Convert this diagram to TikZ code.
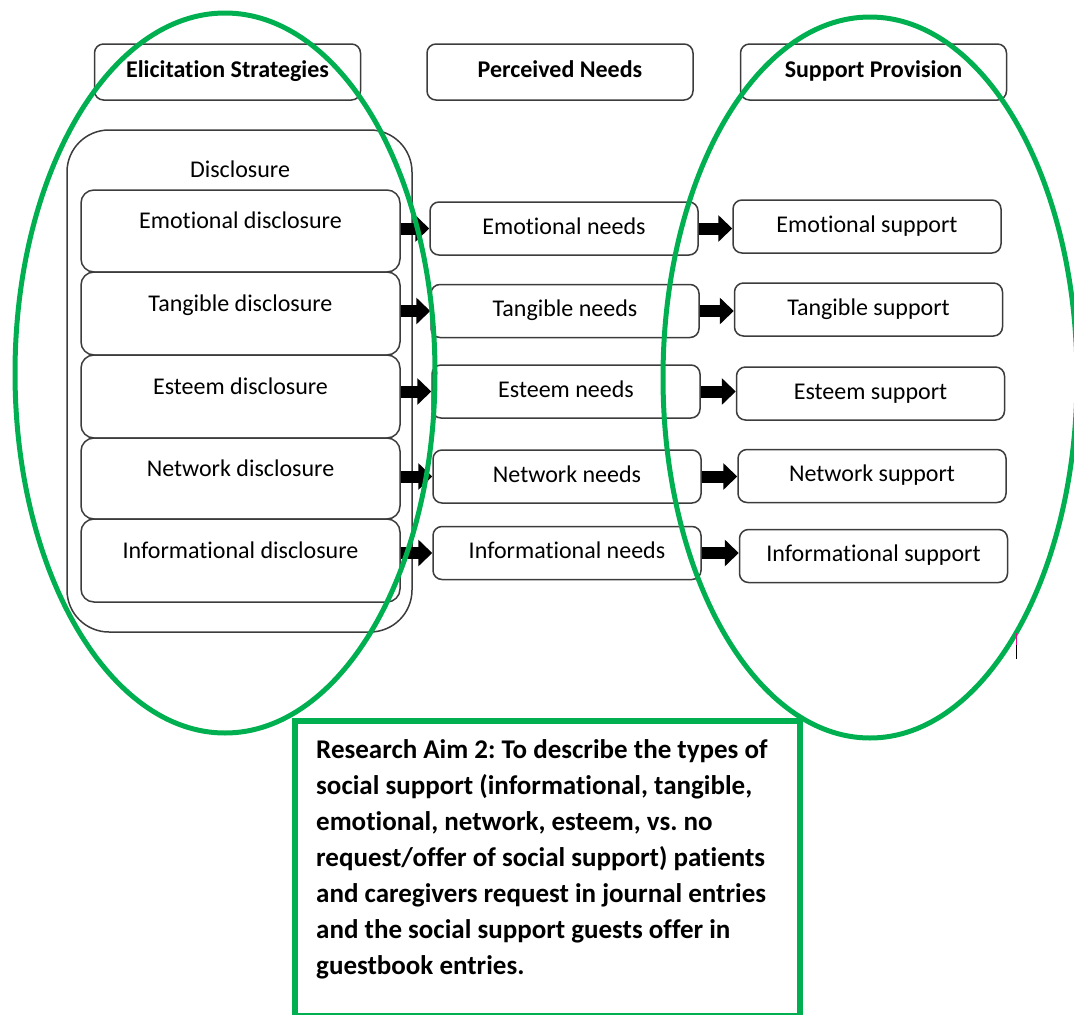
\documentclass[tikz,border=0pt]{standalone}
\usepackage{fontspec}
\setmainfont{Carlito}[Ligatures={NoCommon}]
\usetikzlibrary{arrows.meta}
\frenchspacing
\definecolor{ogreen}{HTML}{00B050}
\definecolor{boxline}{HTML}{3C3C3C}
\tikzset{
  basebox/.style={draw=boxline, line width=1.5pt, inner sep=0pt, font=\fontsize{24}{28}\selectfont, text height=16pt, text depth=5pt},
  headbox/.style={basebox, rounded corners=9pt, minimum width=266pt, minimum height=56pt, font=\fontsize{24}{28}\selectfont\bfseries},
  discbox/.style={basebox, rounded corners=13pt, minimum width=319pt, text height=16pt, text depth=21pt},
  needbox/.style={basebox, rounded corners=9pt, minimum width=268pt, minimum height=53pt},
  container/.style={draw=boxline, line width=1.5pt, rounded corners=42pt, inner sep=0pt},
  blockarrow/.style={line width=12pt, -{Triangle[length=14pt,width=26pt]}, black},
  greenring/.style={draw=ogreen, line width=5pt},
  aimline/.style={anchor=base west, inner sep=0pt, font=\fontsize{27}{36}\selectfont\bfseries}
}
\begin{document}
\begin{tikzpicture}[x=1pt,y=-1pt]
\useasboundingbox (0,0) rectangle (1074,1015);
% headers
\node[headbox] (h1) at (227.5,72) {Elicitation Strategies};
\node[headbox] (h2) at (560,72) {Perceived Needs};
\node[headbox] (h3) at (873.5,72) {Support Provision};
% disclosure container
\node[container, minimum width=345pt, minimum height=502pt] (cont) at (239.5,381) {};
\node[font=\fontsize{24}{28}\selectfont, anchor=base] (disc) at (240,177) {Disclosure};
% disclosure boxes
\node[discbox, minimum height=82pt] (d1) at (240.5,231) {Emotional disclosure};
\node[discbox, minimum height=83pt] (d2) at (240.5,313.5) {Tangible disclosure};
\node[discbox, minimum height=83pt] (d3) at (240.5,396.5) {Esteem disclosure};
\node[discbox, minimum height=81pt] (d4) at (240.5,478.5) {Network disclosure};
\node[discbox, minimum height=83pt] (d5) at (240.5,560.5) {Informational disclosure};
% needs
\node[needbox] (n1) at (564,228.5) {Emotional needs};
\node[needbox] (n2) at (565,311) {Tangible needs};
\node[needbox] (n3) at (566,391.5) {Esteem needs};
\node[needbox] (n4) at (567,476.5) {Network needs};
\node[needbox] (n5) at (567,553) {Informational needs};
% support
\node[needbox] (s1) at (867,226.5) {Emotional support};
\node[needbox] (s2) at (868.5,309.5) {Tangible support};
\node[needbox] (s3) at (870.5,393.5) {Esteem support};
\node[needbox] (s4) at (872,476) {Network support};
\node[needbox] (s5) at (873.5,556) {Informational support};
% arrows
\foreach \i in {1,...,5}{
  \draw[blockarrow] (d\i.east |- n\i.west) -- (n\i.west);
  \draw[blockarrow] (n\i.east) -- (n\i.east -| s\i.west);
}
% green rings
\draw[greenring] (225,373) ellipse [x radius=210, y radius=360];
\draw[greenring] (870,377.5) ellipse [x radius=207, y radius=360.5];
% research aim box
\node[draw=ogreen, line width=5.5pt, fill=white, minimum width=505pt, minimum height=295pt, inner sep=0pt] (aim) at (547.5,868.5) {};
\node[aimline] (a1) at (316,758) {Research Aim 2: To describe the types of};
\node[aimline] (a2) at (316,794) {social support (informational, tangible,};
\node[aimline] (a3) at (316,830) {emotional, network, esteem, vs. no};
\node[aimline] (a4) at (316,866) {request/offer of social support) patients};
\node[aimline] (a5) at (316,902) {and caregivers request in journal entries};
\node[aimline] (a6) at (316,938) {and the social support guests offer in};
\node[aimline] (a7) at (316,974) {guestbook entries.};
% cursor mark
\coordinate (m1) at (1016,633);
\coordinate (m2) at (1016,645);
\coordinate (m3) at (1016,659);
\draw[magenta, line width=1pt] (m1) -- (m2);
\draw[black, line width=1pt] (m2) -- (m3);
\end{tikzpicture}
\end{document}
